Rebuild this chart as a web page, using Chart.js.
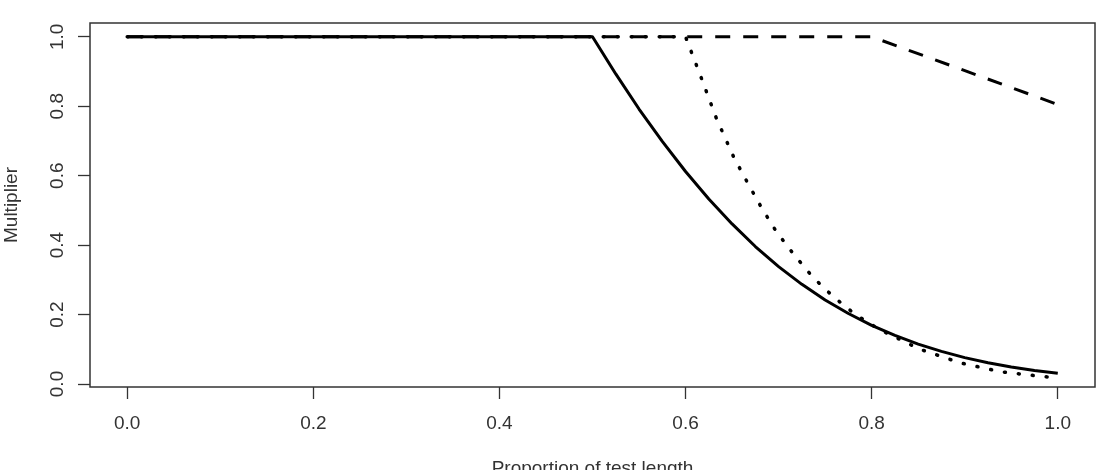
<!DOCTYPE html>
<html>
<head>
<meta charset="utf-8">
<script src="https://cdn.jsdelivr.net/npm/chart.js@4"></script>
<style>
  html, body { margin: 0; padding: 0; background: #fff; }
  #wrap { width: 1101px; height: 470px; position: relative; }
</style>
</head>
<body>
<div id="wrap"><canvas id="chart"></canvas></div>
<script>
// Values
const xTicks = [0, 0.2, 0.4, 0.6, 0.8, 1.0];
const yTicks = [0, 0.2, 0.4, 0.6, 0.8, 1.0];
const tickLabels = ['0.0', '0.2', '0.4', '0.6', '0.8', '1.0'];
const xTitle = 'Proportion of test length';
const yTitle = 'Multiplier';

// solid curve
const xSolid = [0, 0.5, 0.525, 0.55, 0.575, 0.6, 0.625, 0.65, 0.675, 0.7, 0.725, 0.75,
                0.775, 0.8, 0.825, 0.85, 0.875, 0.9, 0.925, 0.95, 0.975, 1.0];
const ySolid = [1, 1, 0.893, 0.792, 0.699, 0.612, 0.533, 0.461, 0.396, 0.338, 0.287, 0.242,
                0.203, 0.169, 0.140, 0.115, 0.094, 0.076, 0.061, 0.049, 0.039, 0.031];

// dotted curve
const xDotted = [0, 0.6, 0.617, 0.633, 0.652, 0.667, 0.682, 0.698, 0.717, 0.737, 0.759,
                 0.783, 0.809, 0.852, 0.895, 0.939, 0.986, 1.0];
const yDotted = [1, 1, 0.881, 0.766, 0.652, 0.578, 0.506, 0.437, 0.371, 0.307, 0.251,
                 0.199, 0.156, 0.100, 0.061, 0.035, 0.021, 0.018];

// dashed curve
const xDashed = [0, 0.8, 1.0];
const yDashed = [1, 1, 0.805];

const toPoints = (xs, ys) => xs.map((x, i) => ({ x: x, y: ys[i] }));

const FONT = '19px "Liberation Sans", Arial, sans-serif';
const INK = '#333';

// draws the box, tick labels and axis titles the way R does
const rAxesPlugin = {
    id: 'rAxes',
    afterDraw(chart) {
        const ctx = chart.ctx;
        const area = chart.chartArea;
        const xs = chart.scales.x;
        const ys = chart.scales.y;
        ctx.save();
        ctx.strokeStyle = INK;
        ctx.lineWidth = 1.5;
        ctx.strokeRect(area.left, area.top, area.right - area.left, area.bottom - area.top);

        ctx.fillStyle = INK;
        ctx.font = FONT;
        ctx.textAlign = 'center';
        ctx.textBaseline = 'alphabetic';
        xTicks.forEach((v, i) => {
            ctx.fillText(tickLabels[i], xs.getPixelForValue(v), 429);
        });
        yTicks.forEach((v, i) => {
            ctx.save();
            ctx.translate(63, ys.getPixelForValue(v));
            ctx.rotate(-Math.PI / 2);
            ctx.fillText(tickLabels[i], 0, 0);
            ctx.restore();
        });

        ctx.fillText(xTitle, (area.left + area.right) / 2, 474);
        ctx.save();
        ctx.translate(16.5, (area.top + area.bottom) / 2);
        ctx.rotate(-Math.PI / 2);
        ctx.fillText(yTitle, 0, 0);
        ctx.restore();
        ctx.restore();
    }
};

const lineBase = {
    borderColor: '#000',
    backgroundColor: '#000',
    pointRadius: 0,
    fill: false,
    showLine: true,
    tension: 0,
    borderJoinStyle: 'round'
};

new Chart(document.getElementById('chart'), {
    type: 'scatter',
    data: {
        datasets: [
            Object.assign({}, lineBase, {
                label: 'solid',
                data: toPoints(xSolid, ySolid),
                borderWidth: 3,
                order: 0
            }),
            Object.assign({}, lineBase, {
                label: 'dotted',
                data: toPoints(xDotted, yDotted),
                borderWidth: 3.5,
                borderDash: [1, 13],
                borderCapStyle: 'round',
                order: 1
            }),
            Object.assign({}, lineBase, {
                label: 'dashed',
                data: toPoints(xDashed, yDashed),
                borderWidth: 3,
                borderDash: [15, 13],
                borderCapStyle: 'butt',
                order: 2
            })
        ]
    },
    options: {
        responsive: true,
        maintainAspectRatio: false,
        animation: false,
        layout: { padding: { left: 0, top: 23, right: 6, bottom: 0 } },
        plugins: {
            legend: { display: false },
            tooltip: { enabled: false }
        },
        scales: {
            x: {
                type: 'linear',
                min: -0.04,
                max: 1.04,
                afterBuildTicks: (scale) => { scale.ticks = xTicks.map(v => ({ value: v })); },
                afterFit: (scale) => { scale.height = 83; },
                ticks: { display: false },
                border: { display: false },
                grid: { drawOnChartArea: false, drawTicks: true, tickLength: 12, tickColor: INK, tickWidth: 1.3 }
            },
            y: {
                type: 'linear',
                min: -0.0086,
                max: 1.0397,
                afterBuildTicks: (scale) => { scale.ticks = yTicks.map(v => ({ value: v })); },
                afterFit: (scale) => { scale.width = 90; },
                ticks: { display: false },
                border: { display: false },
                grid: { drawOnChartArea: false, drawTicks: true, tickLength: 12, tickColor: INK, tickWidth: 1.3 }
            }
        }
    },
    plugins: [rAxesPlugin]
});
</script>
</body>
</html>
